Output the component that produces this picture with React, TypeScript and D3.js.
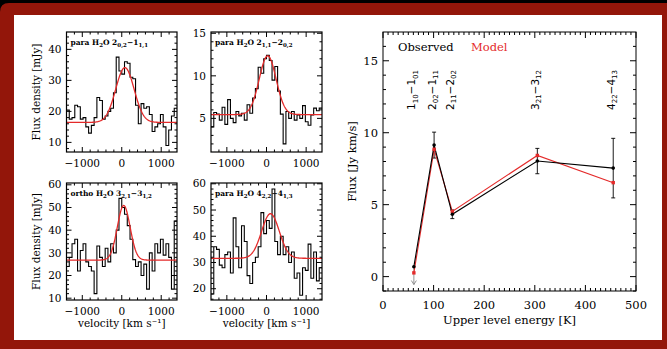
import React from "react";
import * as d3 from "d3";

// spectra (flux density, mJy), channels start at VEL_START, width CHAN_W km/s
const VEL_START = -1400;
const CHAN_W = 70;
const velRange = [-1400, 1400];
const velTicks = [-1000, 0, 1000];

const spec202 = [20.4, 17.5, 18, 22, 21.5, 17.5, 18, 15, 13, 15.5, 18, 24.5, 23.5, 17.5, 18.5, 20, 21, 26, 37.5, 33, 32, 36, 35.5, 31, 30.5, 22, 16, 22.5, 21, 21.5, 19, 13.5, 15, 16, 19, 15, 9, 14, 18.5, 21];
const spec211 = [4.0, 5.7, 5.5, 4.8, 6.3, 4.3, 7.2, 5.0, 4.5, 5.8, 5.3, 5.6, 4.8, 6.6, 5.6, 7.4, 8.5, 11.0, 10.3, 12.0, 12.4, 11.8, 9.5, 11.1, 8.2, 5.5, 2.0, 5.8, 5.0, 5.8, 4.8, 5.4, 5.0, 6.5, 4.6, 4.2, 5.4, 6.2, 5.9, 6.2];
const spec321 = [24, 28, 34, 36, 22, 31, 34, 26, 24, 22, 12, 33, 28, 24, 32, 26, 34, 30, 40, 54, 50, 47, 42, 36, 27, 24, 26, 20, 25, 14, 30, 22, 34, 30, 36, 29, 34, 28, 14, 44];
const spec422 = [18, 36, 35, 29, 28, 33, 34, 26, 47, 36, 28, 44, 38, 25, 22, 30, 32, 36, 49, 41, 46, 43, 58, 38, 33, 40, 33, 36, 30, 34, 24, 26, 17.5, 28, 27, 37, 24, 34, 23, 28];
const spectra = [spec202, spec211, spec321, spec422];

// gaussian fits (red)
const fitBase = [16.45, 5.45, 26.8, 31.6];
const fitPeak = [34.1, 12.35, 50.9, 48.6];
const fitCenter = [80, 30, 50, 100];
const fitFwhm = [550, 500, 380, 525];

const panelYDomain = [[6.9, 45.6], [1.05, 15.15], [9.2, 60.8], [15.7, 60.3]];
const panelYTicks = [[10, 20, 30, 40], [5, 10, 15], [10, 20, 30, 40, 50, 60], [20, 30, 40, 50, 60]];
const panelYMinor = [2, 1, 2, 2];

type Seg = [string, boolean];
const panelTitles: Seg[][] = [
  [["para H", false], ["2", true], ["O 2", false], ["0,2", true], ["\u22121", false], ["1,1", true]],
  [["para H", false], ["2", true], ["O 2", false], ["1,1", true], ["\u22122", false], ["0,2", true]],
  [["ortho H", false], ["2", true], ["O 3", false], ["2,1", true], ["\u22123", false], ["1,2", true]],
  [["para H", false], ["2", true], ["O 4", false], ["2,2", true], ["\u22124", false], ["1,3", true]],
];

// integrated fluxes vs upper level energy
const lineLabels: Seg[][] = [
  [["1", false], ["10", true], ["\u22121", false], ["01", true]],
  [["2", false], ["02", true], ["\u22121", false], ["11", true]],
  [["2", false], ["11", true], ["\u22122", false], ["02", true]],
  [["3", false], ["21", true], ["\u22123", false], ["12", true]],
  [["4", false], ["22", true], ["\u22124", false], ["13", true]],
];
const upperEnergy = [61, 101, 137, 305, 455];
const obsFlux = [0.69, 9.14, 4.33, 8.03, 7.54];
const obsErr = [0, 0.9, 0.3, 0.88, 2.07];
const isUpperLimit = [true, false, false, false, false];
const modelFlux = [0.26, 8.85, 4.53, 8.42, 6.53];

const SERIF = "'DejaVu Serif', serif";
const SANS = "'DejaVu Sans', sans-serif";
const RED = "#e42a2a";
const FRAME_RED = "#93160a";

const rich = (segs: Seg[], subSize: number, shift: number) => {
  let cur = 0;
  return segs.map(([t, sub], i) => {
    const target = sub ? shift : 0;
    const dy = target - cur;
    cur = target;
    return (
      <tspan key={i} dy={dy} fontSize={sub ? subSize : undefined}>
        {t}
      </tspan>
    );
  });
};

const panelBoxes = [
  [66.5, 32, 177, 152],
  [211, 32, 322, 152],
  [66.5, 183, 177, 300],
  [211, 183, 322, 300],
];

function Spectrum({ i, yLabel, xLabel }: { i: number; yLabel: boolean; xLabel: boolean }) {
  const [x0, y0, x1, y1] = panelBoxes[i];
  const spec = spectra[i];
  const dom = panelYDomain[i];
  const x = d3.scaleLinear().domain(velRange).range([x0, x1]);
  const y = d3.scaleLinear().domain(dom).range([y1, y0]);

  const steps = spec
    .map((v, k) => [VEL_START + k * CHAN_W, v])
    .concat([[VEL_START + spec.length * CHAN_W, spec[spec.length - 1]]]);
  const hist = d3
    .line<number[]>()
    .x((d) => x(d[0]))
    .y((d) => y(d[1]))
    .curve(d3.curveStepAfter)(steps);

  const amp = fitPeak[i] - fitBase[i];
  const fw = fitFwhm[i];
  const gauss = d3
    .line<number>()
    .x((v) => x(v))
    .y((v) => y(fitBase[i] + amp * Math.exp(-4 * Math.LN2 * ((v - fitCenter[i]) / fw) ** 2)))(
    d3.range(velRange[0], velRange[1] + 1, 10)
  );

  const majY = panelYTicks[i];
  const m = panelYMinor[i];
  const minY = d3
    .range(Math.ceil(dom[0] / m) * m, dom[1], m)
    .filter((t) => !majY.includes(t));
  const minX = d3.range(-1200, 1201, 200).filter((t) => !velTicks.includes(t));
  const clipId = `clip${i}`;

  return (
    <g>
      <defs>
        <clipPath id={clipId}>
          <rect x={x0} y={y0} width={x1 - x0} height={y1 - y0} />
        </clipPath>
      </defs>
      <g clipPath={`url(#${clipId})`}>
        <path d={hist || ""} fill="none" stroke="#000" strokeWidth={1.1} />
        <path d={gauss || ""} fill="none" stroke={RED} strokeWidth={1.3} />
      </g>
      <rect x={x0} y={y0} width={x1 - x0} height={y1 - y0} fill="none" stroke="#000" strokeWidth={1.2} />
      {majY.map((t) => (
        <g key={"my" + t}>
          <line x1={x0} x2={x0 + 5} y1={y(t)} y2={y(t)} stroke="#000" />
          <line x1={x1} x2={x1 - 5} y1={y(t)} y2={y(t)} stroke="#000" />
          <text x={x0 - 5} y={y(t)} dy="0.35em" textAnchor="end" fontFamily={SERIF} fontSize={10.5}>
            {t}
          </text>
        </g>
      ))}
      {minY.map((t) => (
        <g key={"ny" + t}>
          <line x1={x0} x2={x0 + 2.5} y1={y(t)} y2={y(t)} stroke="#000" />
          <line x1={x1} x2={x1 - 2.5} y1={y(t)} y2={y(t)} stroke="#000" />
        </g>
      ))}
      {velTicks.map((t) => (
        <g key={"mx" + t}>
          <line x1={x(t)} x2={x(t)} y1={y1} y2={y1 - 5} stroke="#000" />
          <line x1={x(t)} x2={x(t)} y1={y0} y2={y0 + 5} stroke="#000" />
          <text x={x(t)} y={y1 + 15} textAnchor="middle" fontFamily={SERIF} fontSize={10.5}>
            {t < 0 ? "\u2212" + Math.abs(t) : t}
          </text>
        </g>
      ))}
      {minX.map((t) => (
        <g key={"nx" + t}>
          <line x1={x(t)} x2={x(t)} y1={y1} y2={y1 - 2.5} stroke="#000" />
          <line x1={x(t)} x2={x(t)} y1={y0} y2={y0 + 2.5} stroke="#000" />
        </g>
      ))}
      <text x={x0 + 4} y={y0 + 13} fontFamily={SERIF} fontWeight="bold" fontSize={7.5}>
        {rich(panelTitles[i], 5.5, 2)}
      </text>
      {yLabel && (
        <text
          transform={`translate(40,${(y0 + y1) / 2}) rotate(-90)`}
          textAnchor="middle"
          fontFamily={SERIF}
          fontSize={10.5}
        >
          Flux density [mJy]
        </text>
      )}
      {xLabel && (
        <text x={(x0 + x1) / 2} y={y1 + 27} textAnchor="middle" fontFamily={SERIF} fontSize={10.5}>
          velocity [km s{"\u207B\u00B9"}]
        </text>
      )}
    </g>
  );
}

function FluxPlot() {
  const [x0, y0, x1, y1] = [383, 32, 636, 291];
  const x = d3.scaleLinear().domain([0, 500]).range([x0, x1]);
  const y = d3.scaleLinear().domain([-1, 17]).range([y1, y0]);
  const line = d3
    .line<number>()
    .x((_, k) => x(upperEnergy[k]))
    .y((d) => y(d));
  const majX = [0, 100, 200, 300, 400, 500];
  const minX = d3.range(10, 500, 10).filter((t) => t % 100 !== 0);
  const majY = [0, 5, 10, 15];
  const minY = d3.range(-1, 17, 1).filter((t) => t % 5 !== 0);

  return (
    <g>
      <rect x={x0} y={y0} width={x1 - x0} height={y1 - y0} fill="none" stroke="#000" strokeWidth={1} />
      {majX.map((t) => (
        <g key={"mx" + t}>
          <line x1={x(t)} x2={x(t)} y1={y1} y2={y1 - 6} stroke="#000" />
          <line x1={x(t)} x2={x(t)} y1={y0} y2={y0 + 6} stroke="#000" />
          <text x={x(t)} y={y1 + 18} textAnchor="middle" fontFamily={SERIF} fontSize={11.5}>
            {t}
          </text>
        </g>
      ))}
      {minX.map((t) => (
        <g key={"nx" + t}>
          <line x1={x(t)} x2={x(t)} y1={y1} y2={y1 - 3} stroke="#000" />
          <line x1={x(t)} x2={x(t)} y1={y0} y2={y0 + 3} stroke="#000" />
        </g>
      ))}
      {majY.map((t) => (
        <g key={"my" + t}>
          <line x1={x0} x2={x0 + 6} y1={y(t)} y2={y(t)} stroke="#000" />
          <line x1={x1} x2={x1 - 6} y1={y(t)} y2={y(t)} stroke="#000" />
          <text x={x0 - 5} y={y(t)} dy="0.35em" textAnchor="end" fontFamily={SERIF} fontSize={11.5}>
            {t}
          </text>
        </g>
      ))}
      {minY.map((t) => (
        <g key={"ny" + t}>
          <line x1={x0} x2={x0 + 3} y1={y(t)} y2={y(t)} stroke="#000" />
          <line x1={x1} x2={x1 - 3} y1={y(t)} y2={y(t)} stroke="#000" />
        </g>
      ))}

      {/* upper limit arrow */}
      {obsFlux.map((f, k) =>
        isUpperLimit[k] ? (
          <g key={"ul" + k} stroke="#888" fill="none" strokeWidth={0.9}>
            <line x1={x(upperEnergy[k])} x2={x(upperEnergy[k])} y1={y(f)} y2={y(-0.55)} />
            <path
              d={`M${x(upperEnergy[k]) - 2.5},${y(-0.55) - 4} L${x(upperEnergy[k])},${y(-0.55)} L${
                x(upperEnergy[k]) + 2.5
              },${y(-0.55) - 4}`}
            />
          </g>
        ) : null
      )}
      {/* error bars */}
      {obsFlux.map((f, k) =>
        obsErr[k] > 0 ? (
          <g key={"eb" + k} stroke="#000" strokeWidth={0.9}>
            <line x1={x(upperEnergy[k])} x2={x(upperEnergy[k])} y1={y(f - obsErr[k])} y2={y(f + obsErr[k])} />
            <line x1={x(upperEnergy[k]) - 2} x2={x(upperEnergy[k]) + 2} y1={y(f - obsErr[k])} y2={y(f - obsErr[k])} />
            <line x1={x(upperEnergy[k]) - 2} x2={x(upperEnergy[k]) + 2} y1={y(f + obsErr[k])} y2={y(f + obsErr[k])} />
          </g>
        ) : null
      )}
      <path d={line(modelFlux) || ""} fill="none" stroke={RED} strokeWidth={1.1} />
      <path d={line(obsFlux) || ""} fill="none" stroke="#000" strokeWidth={1.1} />
      {modelFlux.map((f, k) => (
        <rect key={"mm" + k} x={x(upperEnergy[k]) - 1.7} y={y(f) - 1.7} width={3.4} height={3.4} fill={RED} />
      ))}
      {obsFlux.map((f, k) => (
        <circle key={"om" + k} cx={x(upperEnergy[k])} cy={y(f)} r={1.8} fill="#000" />
      ))}

      {lineLabels.map((lab, k) => (
        <text
          key={"ll" + k}
          transform={`translate(${x(upperEnergy[k]) + 1.5},110) rotate(-90)`}
          fontFamily={SANS}
          fontSize={10.5}
        >
          {rich(lab, 7, 2.5)}
        </text>
      ))}

      <text x={398} y={51} fontFamily={SERIF} fontSize={11.5}>
        Observed
      </text>
      <text x={471} y={51} fontFamily={SERIF} fontSize={11.5} fill={RED}>
        Model
      </text>
      <text x={(x0 + x1) / 2} y={324} textAnchor="middle" fontFamily={SERIF} fontSize={11.5}>
        Upper level energy [K]
      </text>
      <text
        transform={`translate(356,${(y0 + y1) / 2}) rotate(-90)`}
        textAnchor="middle"
        fontFamily={SERIF}
        fontSize={11.5}
      >
        Flux [Jy km/s]
      </text>
    </g>
  );
}

export default function App() {
  return (
    <svg
      width={667}
      height={349}
      style={{ position: "absolute", left: 0, top: 0, display: "block", background: "#000" }}
    >
      <path d="M0,12 Q0,3 9,3 H667 V349 H0 Z" fill={FRAME_RED} />
      <rect x={14} y={15} width={648} height={325} fill="#fff" />
      <Spectrum i={0} yLabel={true} xLabel={false} />
      <Spectrum i={1} yLabel={false} xLabel={false} />
      <Spectrum i={2} yLabel={true} xLabel={true} />
      <Spectrum i={3} yLabel={false} xLabel={true} />
      <FluxPlot />
    </svg>
  );
}
